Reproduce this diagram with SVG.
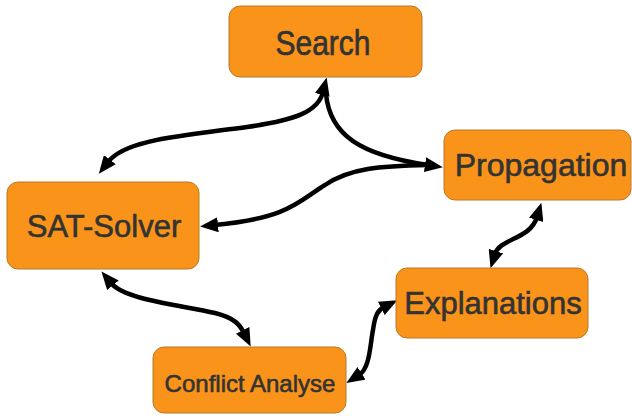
<svg xmlns="http://www.w3.org/2000/svg" width="632" height="416" viewBox="0 0 632 416">
<defs>
<marker id="ah" viewBox="0 0 18 15" refX="3" refY="7.5" markerWidth="18" markerHeight="15" markerUnits="userSpaceOnUse" orient="auto-start-reverse">
<path d="M0,0 L18,7.5 L0,15 z" fill="#000"/>
</marker>
<style>
.box{fill:#F9931A;stroke:#B97A2A;stroke-width:1}
.lbl{font-family:"Liberation Sans",Arial,sans-serif;fill:#333;stroke:#333;stroke-width:0.6;text-anchor:middle}
.c{fill:none;stroke:#000;stroke-width:4.5;stroke-linecap:round}
</style>
</defs>
<rect width="632" height="416" fill="#fff"/>
<g id="connectors">
<path class="c" d="M323,92 C318,112 295,120 247,127 C180,136 125,140 108,162" marker-start="url(#ah)" marker-end="url(#ah)"/>
<path class="c" d="M326,94 C330,135 360,155 428,165" marker-end="url(#ah)"/>
<path class="c" d="M215,225 C290,218 300,200 325,185 C350,168 380,166 428,165" marker-start="url(#ah)"/>
<path class="c" d="M111,283 C125,300 180,305 215,313 C235,318 240,325 244,333" marker-start="url(#ah)" marker-end="url(#ah)"/>
<path class="c" d="M359,375 C370,368 370,345 373,330 C375,315 378,310 384,307" marker-start="url(#ah)" marker-end="url(#ah)"/>
<path class="c" d="M495,254 C500,238 530,240 537,217" marker-start="url(#ah)" marker-end="url(#ah)"/>
</g>
<g id="search">
<rect class="box" x="229" y="6" width="193" height="71" rx="11"/>
<text class="lbl" x="323" y="46" font-size="30" transform="translate(0,55) scale(1,1.15) translate(0,-46)" dy="0">Search</text>
</g>
<g id="sat-solver">
<rect class="box" x="7" y="182" width="192" height="87" rx="11"/>
<text class="lbl" x="104" y="237" font-size="31">SAT-Solver</text>
</g>
<g id="propagation">
<rect class="box" x="444" y="130" width="187" height="70" rx="11"/>
<text class="lbl" x="541" y="176" font-size="32">Propagation</text>
</g>
<g id="explanations">
<rect class="box" x="396" y="268" width="192" height="70" rx="11"/>
<text class="lbl" x="493" y="314" font-size="31">Explanations</text>
</g>
<g id="conflict-analyse">
<rect class="box" x="153" y="347" width="193" height="66" rx="11"/>
<text class="lbl" x="250" y="392" font-size="24">Conflict Analyse</text>
</g>
</svg>
